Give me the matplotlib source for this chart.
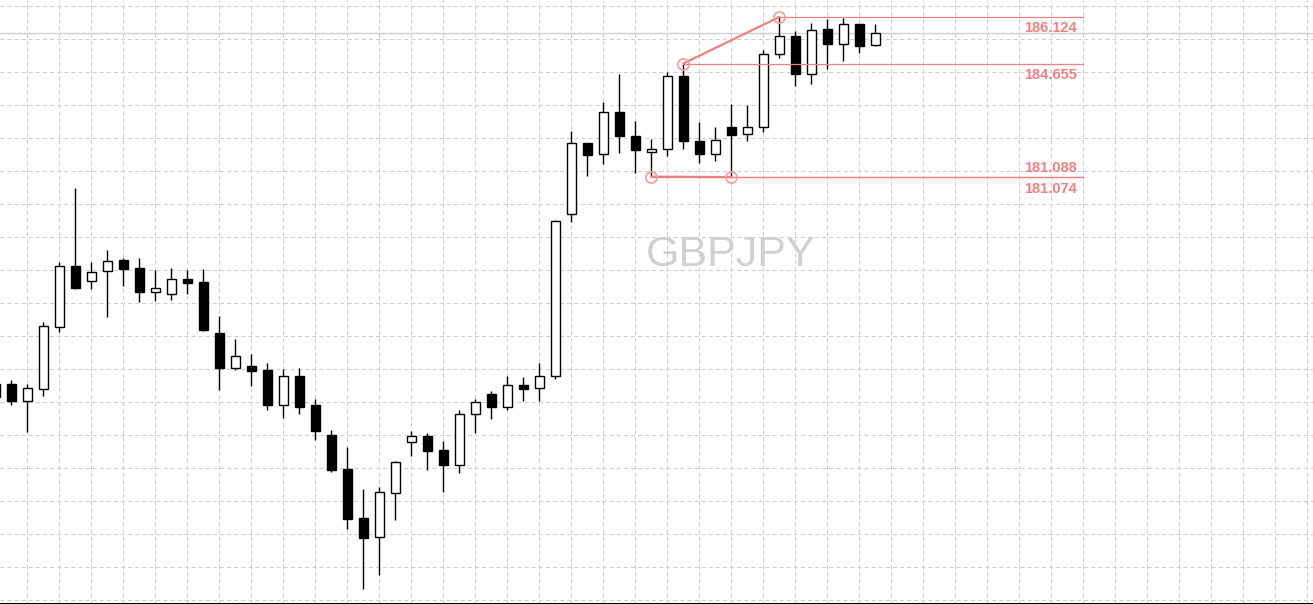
import numpy as np
import matplotlib
matplotlib.use("Agg")
import matplotlib.pyplot as plt

plt.rcParams['lines.scale_dashes'] = False

# ---- data (GBPJPY candles) ----
opens = [174.137, 174.547, 174.020, 174.398, 176.354, 178.269, 177.786, 178.102, 178.458, 178.206,
         177.458, 177.395, 177.859, 177.764, 176.156, 175.061, 175.115, 174.988, 173.894, 174.799,
         173.884, 172.938, 171.865, 170.310, 169.730, 171.099, 172.708, 172.897, 172.465, 172.001,
         173.591, 174.231, 173.831, 174.506, 174.411, 174.790, 179.900, 182.140, 181.793, 183.118,
         182.361, 181.856, 181.950, 184.253, 182.212, 181.818, 182.654, 182.424, 182.663, 184.947,
         185.515, 184.316, 185.736, 185.263, 185.903, 185.231]
highs = [174.547, 174.673, 174.547, 176.503, 178.395, 180.730, 178.395, 178.774, 178.521, 178.521,
         178.143, 178.197, 178.143, 178.165, 176.692, 175.966, 175.493, 175.209, 175.020, 175.051,
         174.074, 173.096, 172.559, 171.234, 171.298, 172.118, 173.064, 173.001, 172.749, 173.727,
         174.074, 174.335, 174.799, 174.768, 175.219, 179.711, 182.528, 182.140, 183.443, 184.335,
         182.843, 182.275, 184.389, 184.655, 182.812, 182.654, 183.370, 183.348, 185.083, 186.124,
         185.682, 185.935, 186.061, 186.092, 185.903, 185.903]
lows = [174.137, 173.894, 173.033, 174.168, 176.187, 177.553, 177.553, 176.670, 177.638, 177.133,
        177.174, 177.197, 177.386, 176.228, 174.357, 174.988, 174.484, 173.727, 173.484, 173.610,
        172.790, 171.780, 169.982, 168.089, 168.521, 170.266, 172.285, 171.843, 171.140, 171.749,
        173.010, 173.452, 173.736, 174.020, 174.020, 174.714, 179.667, 181.118, 181.496, 181.843,
        181.212, 181.088, 181.749, 181.969, 181.528, 181.591, 181.074, 182.222, 182.506, 184.840,
        183.957, 184.020, 184.493, 184.745, 184.998, 185.200]
closes = [174.547, 174.020, 174.411, 176.376, 178.260, 177.585, 178.070, 178.427, 178.184, 177.449,
          177.566, 177.859, 177.742, 176.250, 175.051, 175.421, 174.966, 173.894, 174.799, 173.831,
          173.074, 171.843, 170.298, 169.698, 171.130, 172.077, 172.897, 172.443, 172.001, 173.591,
          173.969, 173.831, 174.506, 174.398, 174.790, 179.679, 182.140, 181.780, 183.118, 182.361,
          181.944, 181.950, 184.253, 182.203, 181.812, 182.234, 182.411, 182.645, 184.947, 185.515,
          184.335, 185.704, 185.263, 185.894, 185.219, 185.610]
bar_index = list(range(-1, 55))

symbol = "GBPJPY"
bid_price = 185.610

# marked levels: (bar, price)
trend_high = [(42, 184.655), (48, 186.124)]
trend_low = [(40, 181.088), (45, 181.074)]
level_labels = ["186.124", "184.655", "181.088", "181.074"]
level_prices = [186.124, 184.655, 181.088, 181.074]
level_start = [48, 42, 40, 45]
level_above = [False, False, True, False]
level_end = 67

# ---- figure ----
W, H = 1313, 604
fig = plt.figure(figsize=(W / 100, H / 100), dpi=100)
ax = fig.add_axes([0, 0, 1, 1])
ax.set_facecolor("white")

px_per_bar = 16.0
px_per_yen = 31.7
x0_bar = -11.3 / px_per_bar
ytop = 186.124 + 17 / px_per_yen
ax.set_xlim(x0_bar, x0_bar + W / px_per_bar)
ax.set_ylim(ytop - H / px_per_yen, ytop)

# grid
grid_col = "#cdcdcd"
for k in range(1, 83, 2):
    ax.axvline(k, color=grid_col, lw=0.75, ls=(0, (2.9, 2.2)), zorder=0)
for p in np.arange(ytop - 6 / px_per_yen, ytop - H / px_per_yen, -33 / px_per_yen):
    ax.axhline(p, color=grid_col, lw=0.75, ls=(0, (2.9, 2.2)), zorder=0)

# bid line
ax.axhline(bid_price, color="#d0d0d0", lw=1.0, zorder=1)

# watermark
ax.text(0.5567, 0.578, symbol, transform=ax.transAxes, ha="center", va="center",
        fontsize=31, color="#d0d0d0", family="Liberation Sans", zorder=1)

# candles
o = np.array(opens); c = np.array(closes); h = np.array(highs); l = np.array(lows)
xi = np.array(bar_index)
ax.vlines(xi, l, h, color="black", lw=1.0, zorder=3)
up = c >= o
bottoms = np.minimum(o, c)
heights = np.abs(c - o)
ax.bar(xi[up], heights[up], bottom=bottoms[up], width=0.6, facecolor="white",
       edgecolor="black", linewidth=1.0, zorder=4)
ax.bar(xi[~up], heights[~up], bottom=bottoms[~up], width=0.6, facecolor="black",
       edgecolor="black", linewidth=1.0, zorder=4)

# red drawings
red = "#f08080"
for pts in (trend_high, trend_low):
    xs = [p[0] for p in pts]; ys = [p[1] for p in pts]
    ax.plot(xs, ys, color=red, lw=1.6, zorder=5, solid_capstyle="round")
    ax.plot(xs, ys, ls="none", marker="o", ms=8, mfc="none", mec="#f4a0a0", mew=1.3, zorder=6)
for lab, pr, xs, above in zip(level_labels, level_prices, level_start, level_above):
    ax.plot([xs, level_end], [pr, pr], color=red, lw=0.9, zorder=5)
    ax.annotate(lab, xy=(level_end, pr), xytext=(-6.5, 5 if above else -15.5),
                textcoords="offset pixels", ha="right", va="baseline",
                fontsize=10.5, fontweight="bold", color=red, family="Liberation Sans",
                zorder=6)

ax.set_xticks([]); ax.set_yticks([])
for s in ("top", "left", "right"):
    ax.spines[s].set_visible(False)
ax.spines["bottom"].set_color("black")
ax.spines["bottom"].set_linewidth(2.2)

fig.savefig("out.png", dpi=100, facecolor="white")
